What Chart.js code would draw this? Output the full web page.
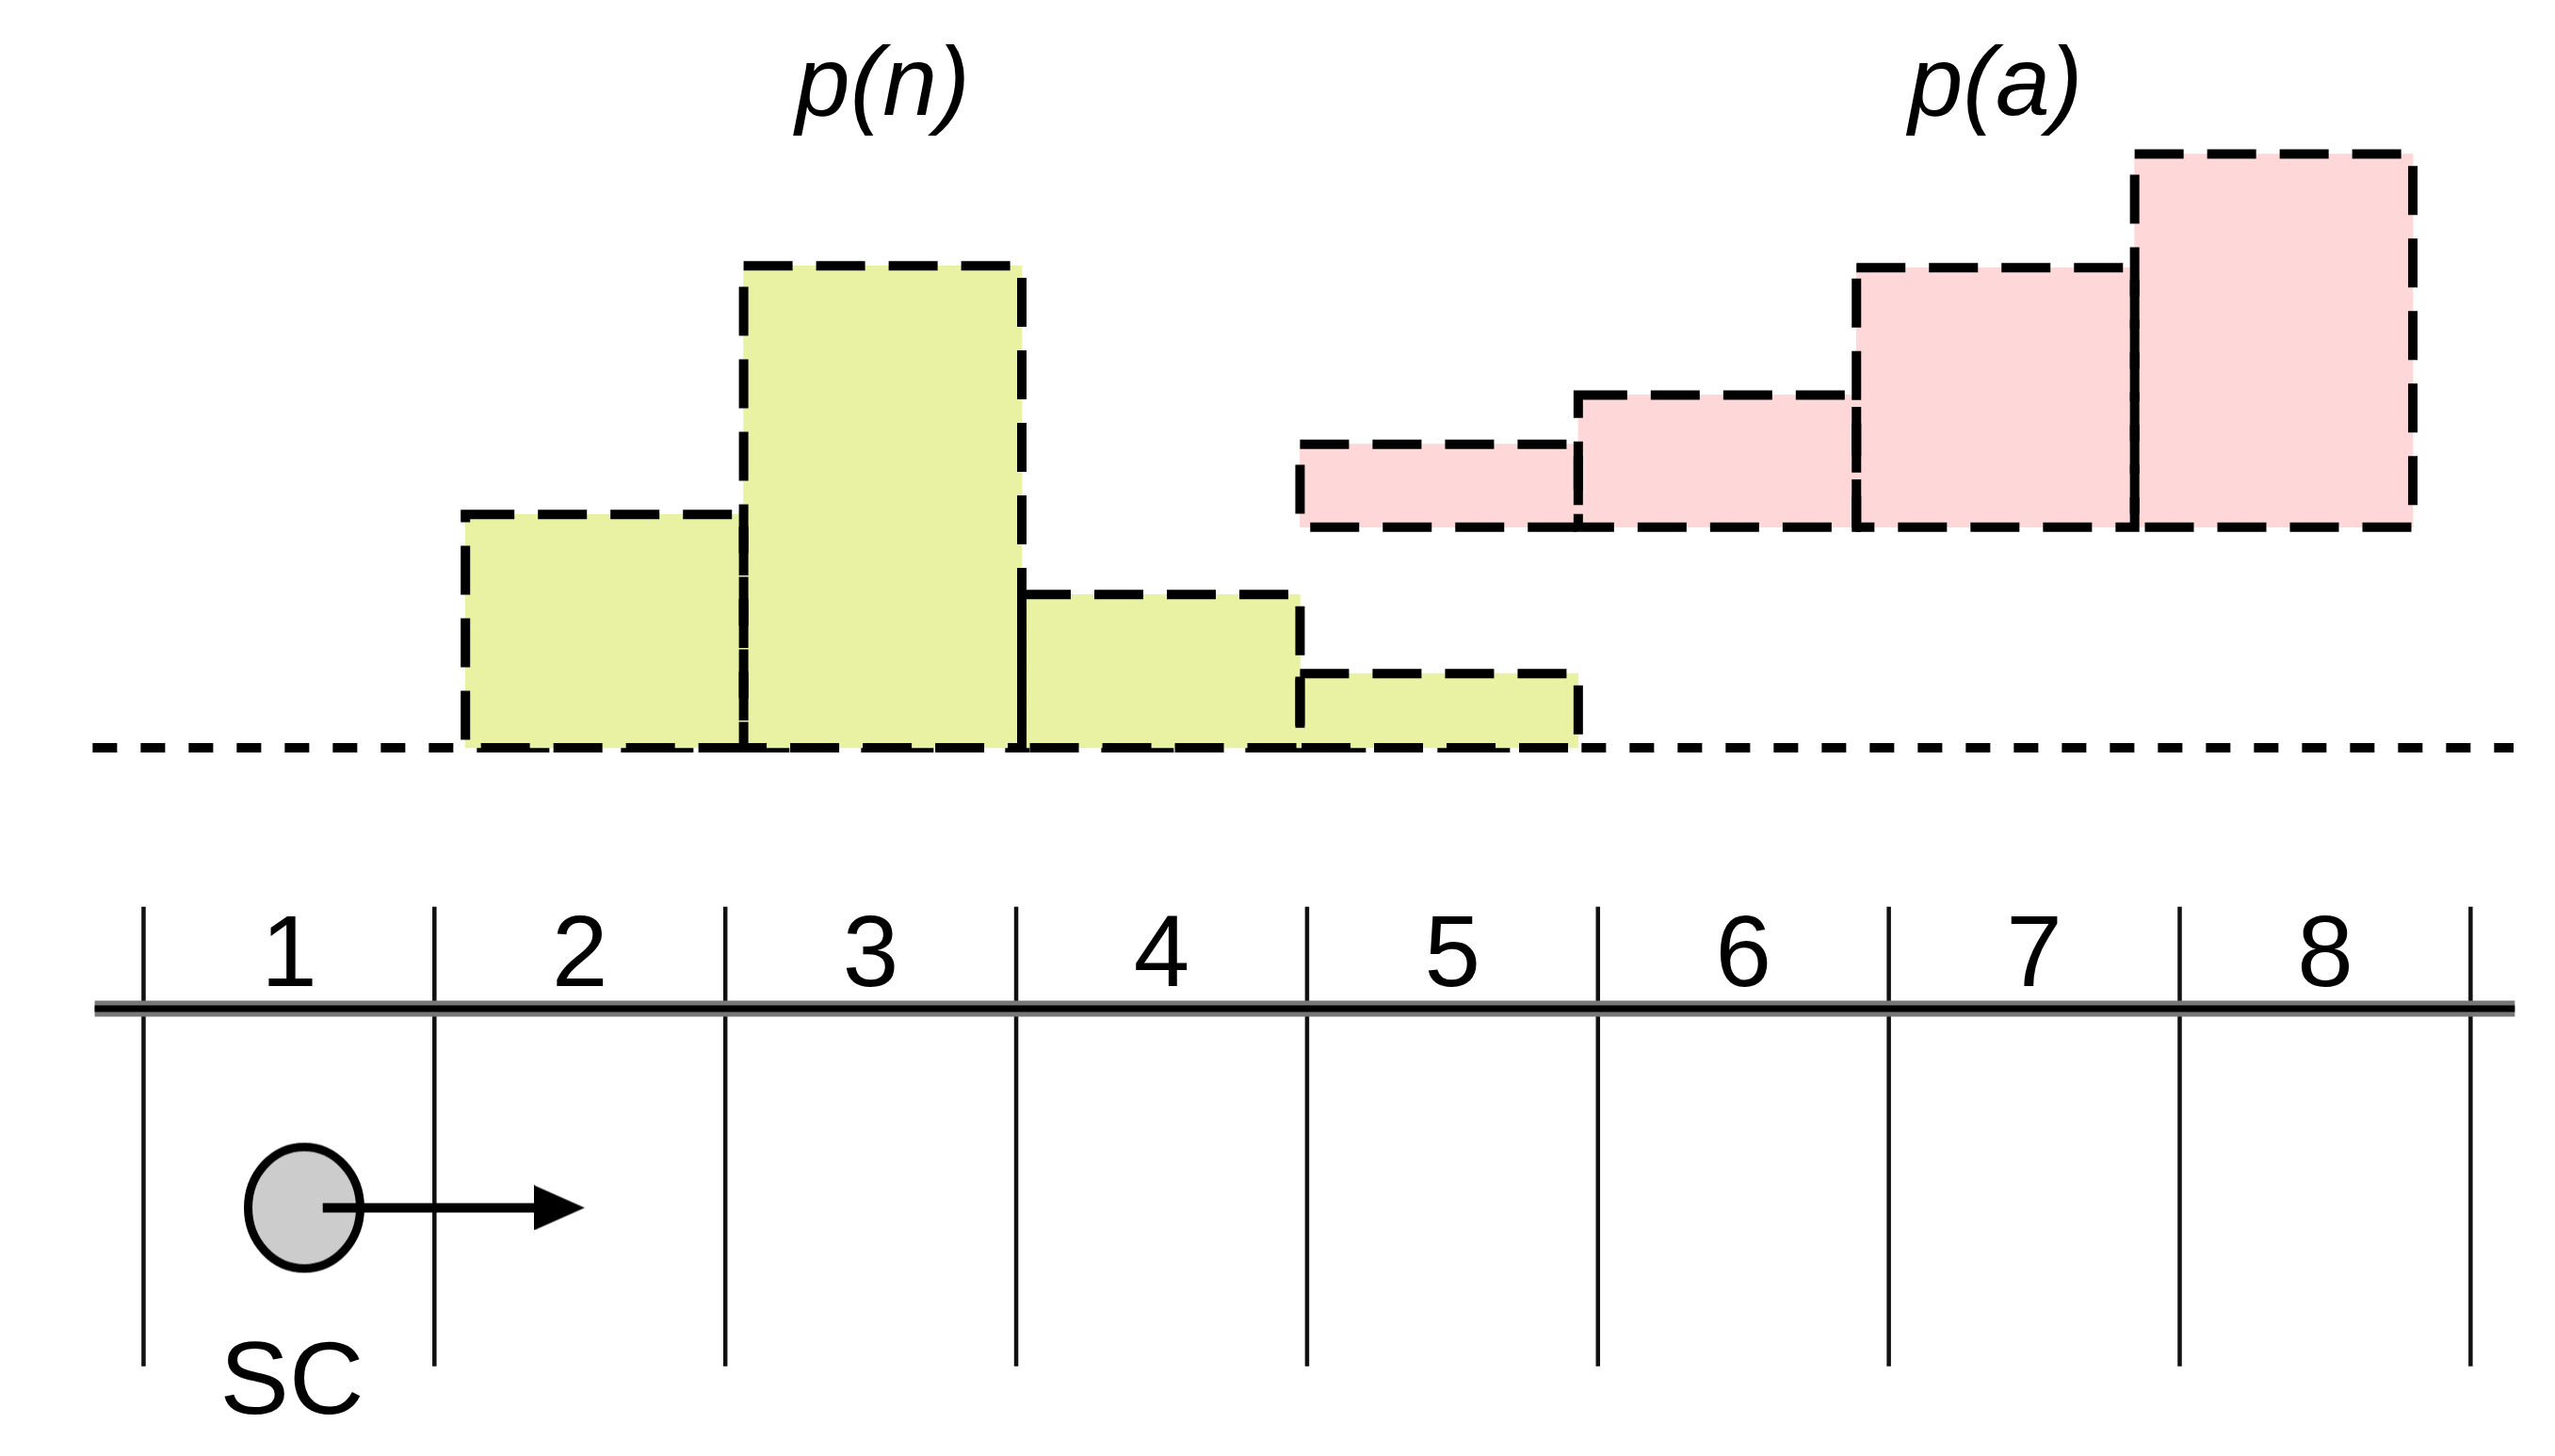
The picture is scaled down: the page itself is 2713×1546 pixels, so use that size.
<!DOCTYPE html>
<html>
<head>
<meta charset="utf-8">
<title>p(n) / p(a)</title>
<script src="https://cdn.jsdelivr.net/npm/chart.js@4.4.1/dist/chart.umd.min.js"></script>
<style>
  html, body { margin: 0; padding: 0; background: #fff; }
  canvas { display: block; }
</style>
</head>
<body>
<canvas id="chart" width="2713" height="1546"></canvas>
<script>
// lattice cells and the two distributions drawn above them
const categories = [1, 2, 3, 4, 5, 6, 7, 8];
const seriesNames = ['p(n)', 'p(a)'];
const pnValues = [null, 0.242, 0.500, 0.159, 0.077, null, null, null];
const paLow = [null, null, null, null, 0.229, 0.229, 0.229, 0.229];
const paHigh = [null, null, null, null, 0.315, 0.366, 0.498, 0.616];
const cellLabels = ['1', '2', '3', '4', '5', '6', '7', '8'];
const markerLabel = 'SC';

// where the annotations sit, in scale units
const titleAt = [3, 7];
const titleY = 0.657;
const cellLabelY = -0.173;
const latticeTop = 0, latticeBottom = -1, latticeRule = -0.222;
const markerAt = { x: 1.052, y: -0.655 };
const arrowFrom = 1.116, arrowTo = 1.86, arrowTip = 1.929;
const markerLabelAt = { x: 1.01, y: -1.102 };

const boundaries = categories.map(c => c - 0.5).concat(categories[categories.length - 1] + 0.5);

function ellipseSprite() {
    const c = document.createElement('canvas');
    c.width = 130; c.height = 140;
    const g = c.getContext('2d');
    g.beginPath();
    g.ellipse(65, 70, 59.5, 64.5, 0, 0, Math.PI * 2);
    g.fillStyle = '#cccccc';
    g.fill();
    g.lineWidth = 9;
    g.strokeStyle = '#000';
    g.stroke();
    return c;
}

function arrowHeadSprite() {
    const c = document.createElement('canvas');
    c.width = 54; c.height = 48;
    const g = c.getContext('2d');
    g.beginPath();
    g.moveTo(0, 0);
    g.lineTo(54, 24);
    g.lineTo(0, 48);
    g.closePath();
    g.fillStyle = '#000';
    g.fill();
    return c;
}

// bars get a dashed black outline (Chart.js bars can't dash their border)
const dashedBars = {
    id: 'dashedBars',
    afterDatasetsDraw(chart) {
        const ctx = chart.ctx;
        chart.data.datasets.forEach((ds, i) => {
            if (!ds.dashedOutline) return;
            chart.getDatasetMeta(i).data.forEach(bar => {
                const { x, y, base, width } = bar.getProps(['x', 'y', 'base', 'width'], true);
                ctx.save();
                ctx.strokeStyle = '#000';
                ctx.lineWidth = 10;
                ctx.setLineDash([52, 25]);
                ctx.strokeRect(x - width / 2, Math.min(y, base), width, Math.abs(base - y));
                ctx.restore();
            });
        });
    }
};

const textLabels = {
    id: 'textLabels',
    afterDraw(chart) {
        const { ctx, scales } = chart;
        ctx.save();
        ctx.fillStyle = '#000';
        ctx.textAlign = 'center';
        ctx.textBaseline = 'alphabetic';
        ctx.font = 'italic 104px "Liberation Sans", Arial, sans-serif';
        seriesNames.forEach((name, i) => {
            ctx.fillText(name, scales.x.getPixelForValue(titleAt[i]), scales.y.getPixelForValue(titleY));
        });
        ctx.font = '107px "Liberation Sans", Arial, sans-serif';
        categories.forEach((c, i) => {
            ctx.fillText(cellLabels[i], scales.xg.getPixelForValue(c), scales.yg.getPixelForValue(cellLabelY));
        });
        ctx.font = '110px "Liberation Sans", Arial, sans-serif';
        ctx.fillText(markerLabel, scales.xg.getPixelForValue(markerLabelAt.x), scales.yg.getPixelForValue(markerLabelAt.y));
        ctx.restore();
    }
};

const verticalLines = [];
boundaries.forEach(b => {
    verticalLines.push({ x: b, y: latticeTop }, { x: b, y: latticeBottom }, { x: b, y: null });
});

const lineStyle = { type: 'line', pointRadius: 0, fill: false, tension: 0, spanGaps: false };

new Chart(document.getElementById('chart'), {
    type: 'bar',
    data: {
        datasets: [
            { type: 'scatter', data: [{ x: arrowTip, y: markerAt.y }], xAxisID: 'xg', yAxisID: 'yg',
              pointStyle: arrowHeadSprite(), pointRadius: 1 },
            { ...lineStyle, data: [{ x: arrowFrom, y: markerAt.y }, { x: arrowTo, y: markerAt.y }],
              xAxisID: 'xg', yAxisID: 'yg', borderColor: '#000', borderWidth: 10 },
            { type: 'scatter', data: [markerAt], xAxisID: 'xg', yAxisID: 'yg',
              pointStyle: ellipseSprite(), pointRadius: 1 },
            { ...lineStyle, data: [{ x: 0.332, y: latticeRule }, { x: 8.652, y: latticeRule }],
              xAxisID: 'xg', yAxisID: 'yg', borderColor: '#000', borderWidth: 7 },
            { ...lineStyle, data: [{ x: 0.332, y: latticeRule }, { x: 8.652, y: latticeRule }],
              xAxisID: 'xg', yAxisID: 'yg', borderColor: '#777777', borderWidth: 17 },
            { ...lineStyle, data: verticalLines, xAxisID: 'xg', yAxisID: 'yg',
              borderColor: '#111', borderWidth: 4.5 },
            {
                label: seriesNames[0],
                data: categories.map((c, i) => ({ x: c, y: pnValues[i] })).filter(d => d.y !== null),
                backgroundColor: '#e8f2a2',
                borderWidth: 0,
                grouped: false,
                barPercentage: 1,
                categoryPercentage: 1,
                dashedOutline: true
            },
            {
                label: seriesNames[1],
                data: categories.map((c, i) => ({ x: c, y: [paLow[i], paHigh[i]] })).filter(d => d.y[0] !== null),
                backgroundColor: '#fed8d8',
                borderWidth: 0,
                grouped: false,
                barPercentage: 1,
                categoryPercentage: 1,
                dashedOutline: true
            },
            { ...lineStyle, data: [{ x: 0.16, y: 0 }, { x: 8.862, y: 0 }],
              borderColor: '#000', borderWidth: 10, borderDash: [26, 25] }
        ]
    },
    options: {
        responsive: false,
        devicePixelRatio: 1,
        animation: false,
        layout: { padding: 0 },
        plugins: { legend: { display: false }, tooltip: { enabled: false }, title: { display: false } },
        scales: {
            x: {
                type: 'linear', display: false, offset: false, min: -0.156, max: 8.994,
                afterBuildTicks: axis => { axis.ticks = categories.map(v => ({ value: v })); }
            },
            y: { type: 'linear', display: false, min: -0.730, max: 0.771 },
            xg: { type: 'linear', axis: 'x', display: false, offset: false, min: 0.0226, max: 8.774 },
            yg: { type: 'linear', axis: 'y', display: false, min: -1.185, max: 1.963 }
        }
    },
    plugins: [dashedBars, textLabels]
});
</script>
</body>
</html>
